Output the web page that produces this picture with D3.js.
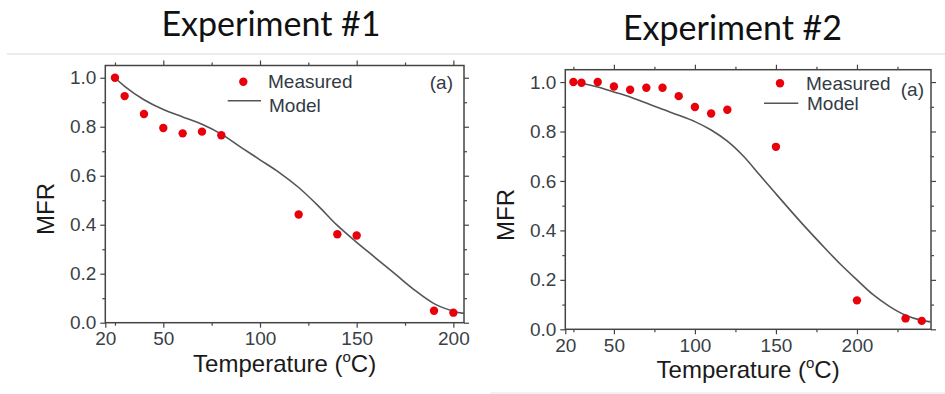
<!DOCTYPE html>
<html>
<head>
<meta charset="utf-8">
<script src="https://cdn.jsdelivr.net/npm/d3@7"></script>
<style>
  body { margin: 0; background: #fff; }
  svg { display: block; }
  .tick text { font-family: "Liberation Sans", Arial, sans-serif; fill: #3a3f48; }
  .domain { display: none; }
  .tick line { stroke: #444; stroke-width: 1.2; }
</style>
</head>
<body>
<svg width="945" height="394"></svg>
<script>
// experiment #1 measured points
var temp1 = [25, 30, 40, 50, 60, 70, 80, 120, 140, 150, 190, 200];
var mfr1 = [1.0, 0.925, 0.852, 0.795, 0.773, 0.78, 0.765, 0.442, 0.361, 0.356, 0.049, 0.041];
// experiment #1 model curve
var modelT1 = [25, 30, 40, 50, 60, 70, 80, 90, 100, 110, 120, 130, 140, 150, 160, 170, 180, 190, 200, 205.5];
var model1 = [1.0, 0.965, 0.91, 0.87, 0.84, 0.81, 0.77, 0.717, 0.665, 0.613, 0.552, 0.478, 0.397, 0.328, 0.263, 0.198, 0.133, 0.078, 0.047, 0.038];

// experiment #2 measured points
var temp2 = [25, 30, 40, 50, 60, 70, 80, 90, 100, 110, 120, 150, 200, 230, 240];
var mfr2 = [1.0, 0.997, 1.0, 0.982, 0.969, 0.977, 0.977, 0.943, 0.899, 0.873, 0.888, 0.738, 0.117, 0.044, 0.034];
// experiment #2 model curve
var modelT2 = [25, 30, 40, 50, 60, 70, 80, 90, 100, 110, 120, 130, 140, 150, 160, 170, 180, 190, 200, 210, 220, 230, 240, 245.5];
var model2 = [1.0, 0.995, 0.98, 0.96, 0.94, 0.915, 0.89, 0.866, 0.84, 0.806, 0.761, 0.7, 0.624, 0.548, 0.473, 0.4, 0.33, 0.262, 0.2, 0.14, 0.093, 0.057, 0.036, 0.03];

// tick values
var xMajor = [20, 50, 100, 150, 200];
var xMinor1 = [25, 75, 125, 175];
var xMinor2 = [25, 75, 125, 175, 225];
var yMajor = [0, 0.2, 0.4, 0.6, 0.8, 1.0];
var yMinor = [0.1, 0.3, 0.5, 0.7, 0.9];

var svg = d3.select("svg");

// separator lines
svg.append("line").attr("x1", 7).attr("x2", 945).attr("y1", 54).attr("y2", 54)
   .attr("stroke", "#d8d8d8").attr("stroke-width", 1);
svg.append("line").attr("x1", 490).attr("x2", 945).attr("y1", 393).attr("y2", 393)
   .attr("stroke", "#e4e4e4").attr("stroke-width", 1);

var drawPanel = function(p) {
	var x = d3.scaleLinear().domain(p.xDomain).range([p.left, p.right]);
	var y = d3.scaleLinear().domain([0, 1.05]).range([p.bottom, p.top]);

	// title
	svg.append("text")
	   .attr("x", p.titleX).attr("y", p.titleY)
	   .attr("text-anchor", "middle")
	   .attr("font-family", "Lato, 'Open Sans', sans-serif")
	   .attr("font-size", 34)
	   .attr("fill", "#111")
	   .text(p.title);

	// bottom axis
	svg.append("g")
	   .attr("transform", "translate(0," + p.bottom + ")")
	   .call(d3.axisBottom(x).tickValues(xMajor).tickSizeInner(5).tickSizeOuter(0).tickPadding(4).tickFormat(d3.format("d")))
	   .call(function(g) { g.selectAll("text").attr("font-size", 19); });
	svg.append("g")
	   .attr("transform", "translate(0," + p.bottom + ")")
	   .call(d3.axisBottom(x).tickValues(p.xMinor).tickSizeInner(3).tickSizeOuter(0).tickFormat(""));

	// top axis
	svg.append("g")
	   .attr("transform", "translate(0," + p.top + ")")
	   .call(d3.axisTop(x).tickValues(xMajor.slice(1)).tickSizeInner(5).tickSizeOuter(0).tickFormat(""));
	svg.append("g")
	   .attr("transform", "translate(0," + p.top + ")")
	   .call(d3.axisTop(x).tickValues(p.xMinor).tickSizeInner(3).tickSizeOuter(0).tickFormat(""));

	// left axis
	svg.append("g")
	   .attr("transform", "translate(" + p.left + ",0)")
	   .call(d3.axisLeft(y).tickValues(yMajor).tickSizeInner(5).tickSizeOuter(0).tickPadding(4).tickFormat(d3.format(".1f")))
	   .call(function(g) { g.selectAll("text").attr("font-size", 19); });
	svg.append("g")
	   .attr("transform", "translate(" + p.left + ",0)")
	   .call(d3.axisLeft(y).tickValues(yMinor).tickSizeInner(3).tickSizeOuter(0).tickFormat(""));

	// right axis
	svg.append("g")
	   .attr("transform", "translate(" + p.right + ",0)")
	   .call(d3.axisRight(y).tickValues(yMajor).tickSizeInner(5).tickSizeOuter(0).tickFormat(""));
	svg.append("g")
	   .attr("transform", "translate(" + p.right + ",0)")
	   .call(d3.axisRight(y).tickValues(yMinor).tickSizeInner(3).tickSizeOuter(0).tickFormat(""));

	// frame
	svg.append("rect")
	   .attr("x", p.left).attr("y", p.top)
	   .attr("width", p.right - p.left).attr("height", p.bottom - p.top)
	   .attr("fill", "none").attr("stroke", "#444").attr("stroke-width", 1.5);

	// model line
	var line = d3.line()
	    .x(function(d) { return x(d[0]); })
	    .y(function(d) { return y(d[1]); })
	    .curve(d3.curveCatmullRom.alpha(0.5));
	svg.append("path")
	   .datum(d3.zip(p.modelT, p.model))
	   .attr("d", line)
	   .attr("fill", "none").attr("stroke", "#555").attr("stroke-width", 1.6);

	// measured points
	svg.append("g").selectAll("circle")
	   .data(d3.zip(p.temp, p.mfr))
	   .enter().append("circle")
	   .attr("cx", function(d) { return x(d[0]); })
	   .attr("cy", function(d) { return y(d[1]); })
	   .attr("r", 4.2)
	   .attr("fill", "#e8000b");

	var font = "'Liberation Sans', Arial, sans-serif";

	// axis titles
	var xt = svg.append("text")
	   .attr("x", (p.left + p.right) / 2).attr("y", p.bottom + 49)
	   .attr("text-anchor", "middle")
	   .attr("font-family", font).attr("font-size", 24).attr("fill", "#1a1a1a");
	xt.append("tspan").text("Temperature (");
	xt.append("tspan").attr("font-size", 15).attr("dy", -10).text("o");
	xt.append("tspan").attr("dy", 10).text("C)");

	svg.append("text")
	   .attr("transform", "translate(" + (p.left - 51) + "," + p.mfrY + ") rotate(-90)")
	   .attr("text-anchor", "middle")
	   .attr("font-family", font).attr("font-size", 24).attr("fill", "#1a1a1a")
	   .text("MFR");

	// legend
	var lg = svg.append("g").attr("font-family", font).attr("font-size", 19).attr("fill", "#333a45");
	lg.append("circle").attr("cx", p.leg.dotX).attr("cy", p.leg.dotY).attr("r", 4.2).attr("fill", "#e8000b");
	lg.append("text").attr("x", p.leg.textX).attr("y", p.leg.mY).text("Measured");
	lg.append("line")
	  .attr("x1", p.leg.lineX1).attr("x2", p.leg.lineX2)
	  .attr("y1", p.leg.lineY).attr("y2", p.leg.lineY)
	  .attr("stroke", "#555").attr("stroke-width", 1.6);
	lg.append("text").attr("x", p.leg.textX + 1).attr("y", p.leg.modY).text("Model");
	lg.append("text").attr("x", p.leg.aX).attr("y", p.leg.aY).attr("text-anchor", "end").text("(a)");
};

drawPanel({
	title: "Experiment #1", titleX: 271, titleY: 36,
	xDomain: [20, 205.5], left: 105.3, right: 464, top: 65.5, bottom: 322.7,
	xMinor: xMinor1, temp: temp1, mfr: mfr1, modelT: modelT1, model: model1, mfrY: 209,
	leg: { dotX: 243.3, dotY: 81.7, textX: 268, mY: 88, lineX1: 227.7, lineX2: 261, lineY: 100.7, modY: 112, aX: 453, aY: 89 }
});

drawPanel({
	title: "Experiment #2", titleX: 732.5, titleY: 40,
	xDomain: [20, 245.7], left: 565.3, right: 931, top: 69.7, bottom: 329.3,
	xMinor: xMinor2, temp: temp2, mfr: mfr2, modelT: modelT2, model: model2, mfrY: 215,
	leg: { dotX: 780, dotY: 83.3, textX: 806, mY: 89.5, lineX1: 764, lineX2: 798.3, lineY: 103.3, modY: 109.5, aX: 924, aY: 96 }
});
</script>
</body>
</html>
